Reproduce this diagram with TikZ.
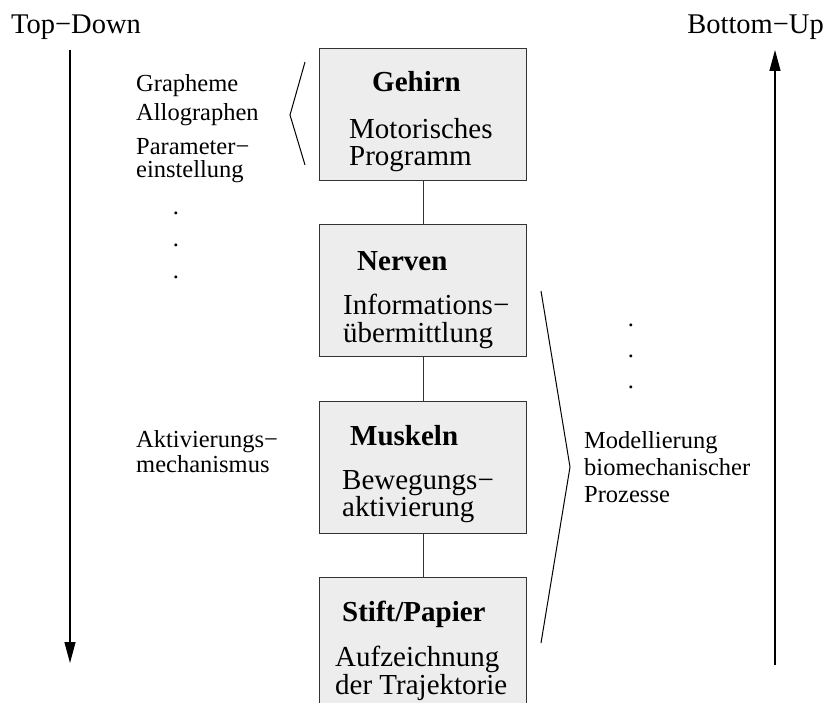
\documentclass[tikz,border=0pt]{standalone}
\usepackage{fontspec}
\setmainfont{Liberation Serif}
\usetikzlibrary{arrows.meta}

\tikzset{
  layer/.style={draw=black!80, fill=black!7, line width=1.2pt, rectangle,
    minimum width=207pt, minimum height=132pt, inner sep=0pt, anchor=north west},
  link/.style={draw=black!80, line width=1.2pt},
  brace/.style={draw=black, line width=1pt},
  flow/.style={draw=black, line width=1.2pt, -{Triangle[length=21pt,width=11pt]}},
  head/.style={anchor=base west, inner sep=0pt, font=\fontsize{29}{29}\selectfont\bfseries},
  body/.style={anchor=base west, inner sep=0pt, font=\fontsize{29}{29}\selectfont},
  side/.style={anchor=base west, inner sep=0pt, font=\fontsize{24.5}{24.5}\selectfont},
  title/.style={inner sep=0pt, font=\fontsize{28.5}{28.5}\selectfont},
  dot/.style={inner sep=0pt, font=\fontsize{24.5}{24.5}\selectfont}
}

\begin{document}
\begin{tikzpicture}[x=1pt, y=-1pt]
  \path[use as bounding box, clip] (0,0) rectangle (837,703);

  % direction headings
  \node[title, anchor=base west] (td) at (11,34) {Top−Down};
  \node[title, anchor=base east] (bu) at (824,34) {Bottom−Up};

  % direction arrows
  \coordinate (tdTop) at (70,50);
  \coordinate (tdEnd) at (70,663);
  \coordinate (buBot) at (775,665);
  \coordinate (buEnd) at (775,50);
  \draw[flow] (tdTop) -- (tdEnd);
  \draw[flow] (buBot) -- (buEnd);

  % layer boxes
  \node[layer] (brain)  at (319,48)  {};
  \node[layer] (nerves) at (319,224) {};
  \node[layer] (muscle) at (319,401) {};
  \node[layer] (pen)    at (319,577) {};

  \draw[link] (brain.south)  -- (nerves.north);
  \draw[link] (nerves.south) -- (muscle.north);
  \draw[link] (muscle.south) -- (pen.north);

  % box texts
  \node[head] (brainH) at (372,92)  {Gehirn};
  \node[body] (brainA) at (349,139) {Motorisches};
  \node[body] (brainB) at (349,166) {Programm};

  \node[head] (nervH) at (357,270) {Nerven};
  \node[body] (nervA) at (343,314) {Informations−};
  \node[body] (nervB) at (343,342) {übermittlung};

  \node[head] (muskH) at (350,445) {Muskeln};
  \node[body] (muskA) at (342,489) {Bewegungs−};
  \node[body] (muskB) at (342,516) {aktivierung};

  \node[head] (penH) at (342,621) {Stift/Papier};
  \node[body] (penA) at (335,666) {Aufzeichnung};
  \node[body] (penB) at (335,694) {der Trajektorie};

  % left annotations
  \node[side] (graph)  at (136,92)  {Grapheme};
  \node[side] (allo)   at (136,121) {Allographen};
  \node[side] (parA)   at (136,155) {Parameter−};
  \node[side] (parB)   at (136,178) {einstellung};
  \node[dot] (ld1) at (176,213) {.};
  \node[dot] (ld2) at (176,245) {.};
  \node[dot] (ld3) at (176,277) {.};
  \node[side] (aktA) at (136,447) {Aktivierungs−};
  \node[side] (aktB) at (136,472) {mechanismus};

  % left bracket
  \coordinate (lbT) at (305,62);
  \coordinate (lbM) at (290,115);
  \coordinate (lbB) at (305,165);
  \draw[brace] (lbT) -- (lbM) -- (lbB);

  % right annotations
  \node[dot] (rd1) at (631,325) {.};
  \node[dot] (rd2) at (631,356) {.};
  \node[dot] (rd3) at (631,387) {.};
  \node[side] (modA) at (584,448) {Modellierung};
  \node[side] (modB) at (584,475) {biomechanischer};
  \node[side] (modC) at (584,502) {Prozesse};

  % right bracket
  \coordinate (rbT) at (541,291);
  \coordinate (rbM) at (570,467);
  \coordinate (rbB) at (541,643);
  \draw[brace] (rbT) -- (rbM) -- (rbB);
\end{tikzpicture}
\end{document}
